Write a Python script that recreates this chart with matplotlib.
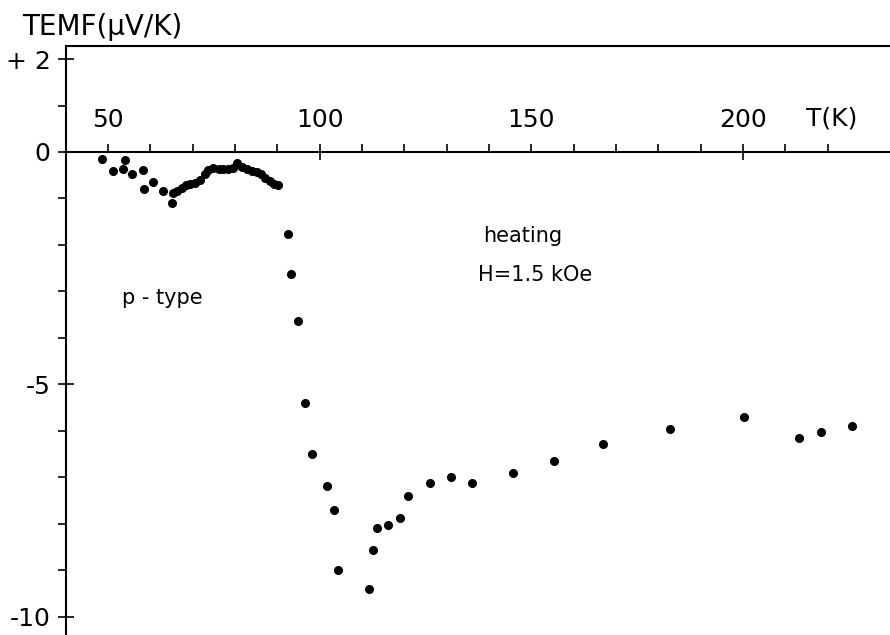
import matplotlib
matplotlib.use("Agg")
import matplotlib.pyplot as plt
from matplotlib.ticker import FixedLocator

# temperature (K) and TEMF (uV/K)
temp = [48.7, 51.2, 53.6, 53.9, 55.7, 58.2, 58.4, 60.7, 62.9, 65.0,
        65.3, 66.4, 67.4, 68.4, 69.4, 70.6, 71.7, 72.9, 73.7, 74.9,
        76.1, 77.2, 78.4, 79.6, 80.5, 81.6, 82.8, 84.0, 85.1, 86.1,
        87.1, 88.3, 89.3, 90.1,
        92.4, 93.3, 94.8, 96.6, 98.2, 101.7, 103.4, 104.3, 111.6, 112.6,
        113.6, 116.1, 118.9, 120.9, 126.0, 131.1, 136.0, 145.6, 155.3, 166.9,
        182.8, 200.3, 213.2, 218.3, 225.8]
temf = [-0.14, -0.41, -0.36, -0.17, -0.47, -0.39, -0.79, -0.64, -0.84, -1.09,
        -0.89, -0.84, -0.78, -0.72, -0.69, -0.67, -0.60, -0.48, -0.39, -0.34,
        -0.36, -0.37, -0.36, -0.34, -0.24, -0.33, -0.36, -0.41, -0.42, -0.48,
        -0.56, -0.62, -0.69, -0.72,
        -1.77, -2.62, -3.63, -5.39, -6.50, -7.19, -7.70, -8.99, -9.40, -8.56,
        -8.09, -8.03, -7.88, -7.39, -7.12, -6.99, -7.12, -6.91, -6.64, -6.29,
        -5.95, -5.69, -6.16, -6.02, -5.89]

x_labels = [50, 100, 150, 200]
x_major = [100, 200]
x_minor = [50, 60, 70, 80, 90, 110, 120, 130, 140, 150, 160, 170, 180, 190, 210, 220]
y_major = [2, 0, -5, -10]
y_major_labels = ["+ 2", "0", "-5", "-10"]
y_minor = [1, -1, -2, -3, -4, -6, -7, -8, -9]

plt.rcParams["font.family"] = ["DejaVu Sans"]

fig = plt.figure(figsize=(8.9, 6.35), dpi=100)
ax = fig.add_axes([66 / 890, 0, 824 / 890, 589 / 635])

ax.plot(temp, temf, "o", color="black", ms=5.5, mec="black")

ax.set_xlim(40.08, 234.7)
ax.set_ylim(-10.39, 2.28)

# x axis sits on the zero line, ticks pointing up
ax.spines["bottom"].set_position(("data", 0))
ax.spines["right"].set_visible(False)
for s in ["bottom", "top", "left"]:
    ax.spines[s].set_linewidth(1.5)

ax.xaxis.set_major_locator(FixedLocator(x_major))
ax.xaxis.set_minor_locator(FixedLocator(x_minor))
ax.tick_params(axis="x", which="major", direction="inout", length=12, width=1.2,
               labelbottom=False, top=False)
ax.tick_params(axis="x", which="minor", direction="in", length=6, width=1.2, top=False)

for v in x_labels:
    ax.annotate(str(v), (v, 0), xytext=(0, 23), textcoords="offset points",
                ha="center", va="center", fontsize=18)
ax.annotate("T(K)", (221, 0), xytext=(0, 24), textcoords="offset points",
            ha="center", va="center", fontsize=18)

ax.yaxis.set_major_locator(FixedLocator(y_major))
ax.yaxis.set_minor_locator(FixedLocator(y_minor))
ax.set_yticklabels(y_major_labels)
ax.tick_params(axis="y", which="major", direction="inout", length=12, width=1.2,
               pad=5, labelsize=18)
ax.tick_params(axis="y", which="minor", direction="out", length=6, width=1.2)

ax.text(138.6, -1.8, "heating", fontsize=15, va="center", ha="left")
ax.text(137.4, -2.64, "H=1.5 kOe", fontsize=15, va="center", ha="left")
ax.text(53.3, -3.15, "p - type", fontsize=15, va="center", ha="left")

fig.text(22 / 890, 1 - 27 / 635, "TEMF(\u03bcV/K)", fontsize=20, va="center", ha="left")

plt.savefig("out.png", dpi=100)
